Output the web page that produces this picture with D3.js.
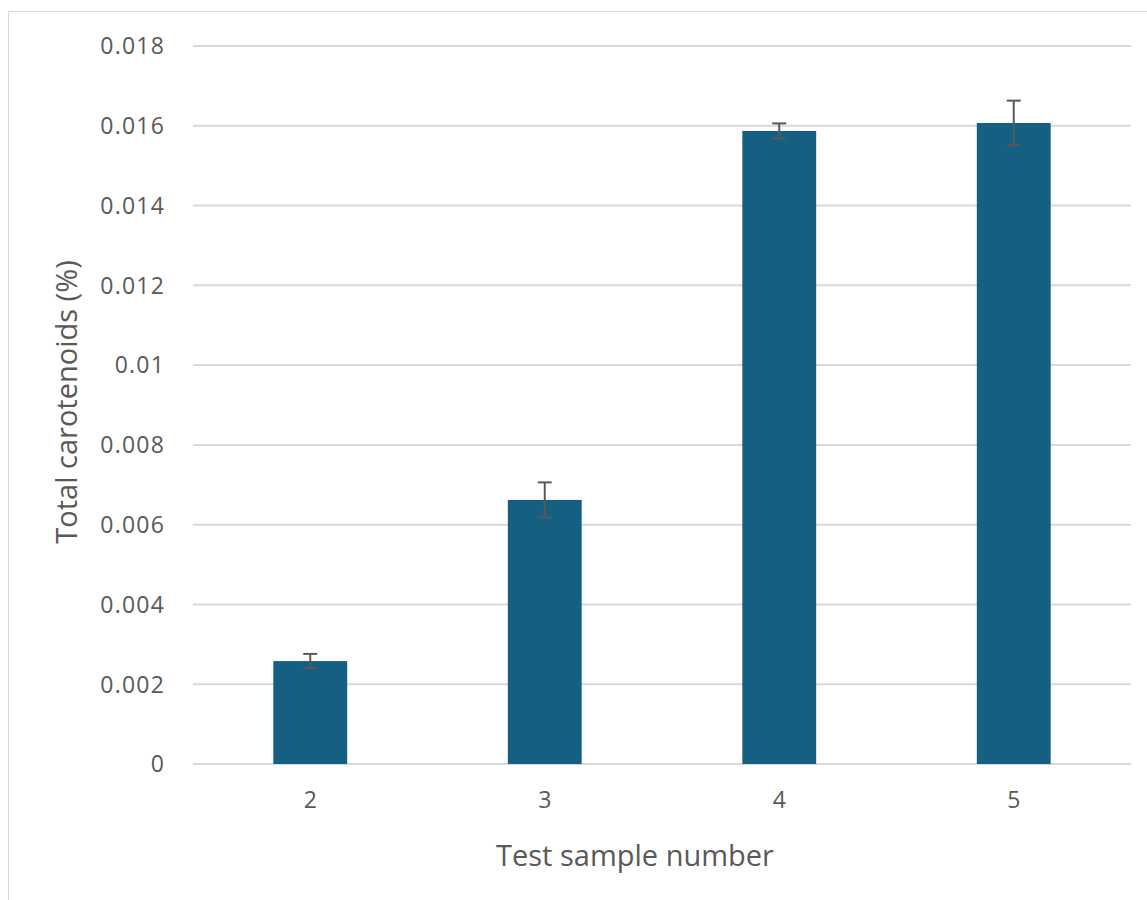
<!DOCTYPE html>
<html><head><meta charset="utf-8">
<script src="https://cdn.jsdelivr.net/npm/d3@7"></script>
<style>body{margin:0;background:#fff}svg{display:block}</style>
</head><body><svg id="c" width="1147" height="900"></svg>
<script>
const categories = ["2","3","4","5"];
const values = [0.00258, 0.00662, 0.01587, 0.01607];
const errors = [0.00018, 0.00044, 0.00019, 0.00056];
const yTicks = [0,0.002,0.004,0.006,0.008,0.01,0.012,0.014,0.016,0.018];
const yTickLabels = ["0","0.002","0.004","0.006","0.008","0.01","0.012","0.014","0.016","0.018"];
const xTitle = "Test sample number";
const yTitle = "Total carotenoids (%)";

const svg = d3.select("#c");
const font = "'Open Sans', 'Noto Sans', sans-serif";
svg.append("rect").attr("x",8.5).attr("y",11.5).attr("width",1150).attr("height",900)
  .attr("fill","#fff").attr("stroke","#d9d9d9").attr("stroke-width",1);

const m = {l:193, r:1131, t:46, b:764};
const x = d3.scaleBand().domain(categories).range([m.l,m.r]).paddingInner(0.685).paddingOuter(0.3425);
const y = d3.scaleLinear().domain([0,0.018]).range([m.b,m.t]);

svg.append("g").selectAll("line").data(yTicks).join("line")
  .attr("x1",m.l).attr("x2",m.r).attr("y1",d=>y(d)).attr("y2",d=>y(d))
  .attr("stroke","#d9d9d9").attr("stroke-width",2);

svg.append("g").selectAll("text").data(yTicks).join("text")
  .attr("x",165).attr("y",d=>y(d)).attr("dy","0.36em").attr("text-anchor","end")
  .attr("font-family",font).attr("font-size",23).attr("letter-spacing","1.2px").attr("fill","#595959")
  .text((d,i)=>yTickLabels[i]);

svg.append("g").selectAll("rect").data(values).join("rect")
  .attr("x",(d,i)=>x(categories[i])).attr("width",x.bandwidth())
  .attr("y",d=>y(d)).attr("height",d=>y(0)-y(d)).attr("fill","#156082");

const eg = svg.append("g").attr("stroke","#595959").attr("stroke-width",2);
values.forEach((v,i)=>{
  const cx = x(categories[i]) + x.bandwidth()/2;
  const y1 = y(v+errors[i]), y2 = y(v-errors[i]);
  eg.append("line").attr("x1",cx).attr("x2",cx).attr("y1",y1).attr("y2",y2);
  eg.append("line").attr("x1",cx-7).attr("x2",cx+7).attr("y1",y1).attr("y2",y1);
  eg.append("line").attr("x1",cx-7).attr("x2",cx+7).attr("y1",y2).attr("y2",y2);
});

svg.append("g").selectAll("text").data(categories).join("text")
  .attr("x",d=>x(d)+x.bandwidth()/2).attr("y",800).attr("dy","0.36em").attr("text-anchor","middle")
  .attr("font-family",font).attr("font-size",23).attr("fill","#595959").text(d=>d);

svg.append("text").attr("x",635).attr("y",866).attr("text-anchor","middle")
  .attr("font-family",font).attr("font-size",29).attr("fill","#595959").text(xTitle);
svg.append("text").attr("transform","translate(77,402) rotate(-90)").attr("text-anchor","middle")
  .attr("font-family",font).attr("font-size",29).attr("fill","#595959").text(yTitle);
</script></body></html>
